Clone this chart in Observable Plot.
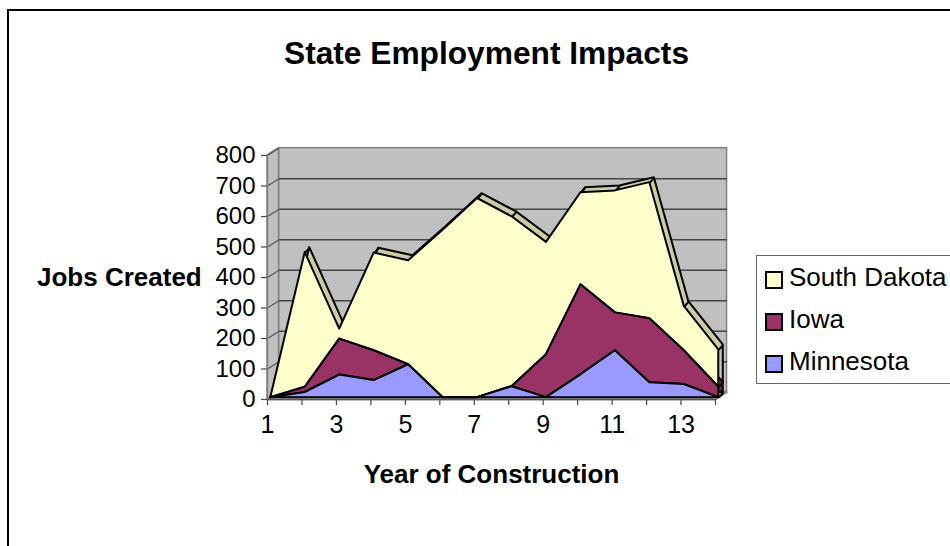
<!DOCTYPE html>
<html>
<head>
<meta charset="utf-8">
<script src="https://cdn.jsdelivr.net/npm/d3@7"></script>
<script src="https://cdn.jsdelivr.net/npm/@observablehq/plot@0.6"></script>
<style>
  html, body { margin: 0; padding: 0; background: #fff; }
  #chart { position: relative; width: 950px; height: 546px; overflow: hidden; font-family: "Liberation Sans", Arial, sans-serif; color: #000; }
  #chart svg { position: absolute; left: 0; top: 0; }
  #frame { position: absolute; left: 7px; top: 9px; width: 960px; height: 560px; border: 2px solid #000; box-sizing: border-box; }
  #legend { position: absolute; left: 756px; top: 255px; width: 210px; height: 129px; border: 1px solid #666; background: #fff; box-sizing: border-box; }
  .entry { position: absolute; left: 8px; font-size: 26px; line-height: 30px; white-space: nowrap; }
  .entry i { display: inline-block; width: 14px; height: 14px; border: 2px solid #000; margin-right: 6px; vertical-align: -3px; }
</style>
</head>
<body>
<div id="chart">
  <div id="frame"></div>
</div>
<script>
// Jobs per year of construction, by state.
const years = [1, 2, 3, 4, 5, 6, 7, 8, 9, 10, 11, 12, 13, 14];
const minnesota = [0, 17, 74, 56, 108, 0, 0, 36, 0, 75, 154, 49, 43, 0];
const iowa = [0, 17, 118, 98, 0, 0, 0, 0, 141, 295, 124, 210, 111, 34];
const southDakota = [0, 442, 33, 320, 341, 549, 653, 557, 368, 302, 400, 446, 145, 123];

const stateNames = ["South Dakota", "Iowa", "Minnesota"];
const faceColors = ["#ffffcc", "#993366", "#9999ff"];
const sideColors = ["#cccca3", "#7a2952", "#7a7acc"];

const yTicks = [0, 100, 200, 300, 400, 500, 600, 700, 800];

// Oblique depth of the 3-D box, in axis units.
const wallDepth = {x: 0.335, y: 24};
const sliceFront = {x: 0.095, y: 6};
const sliceBack = {x: 0.225, y: 22};

// Cumulative tops of the stacked layers.
const topM = minnesota;
const topI = years.map((_, i) => minnesota[i] + iowa[i]);
const topS = years.map((_, i) => minnesota[i] + iowa[i] + southDakota[i]);

const layers = [
  {i: 0, lower: topI, upper: topS},
  {i: 1, lower: topM, upper: topI},
  {i: 2, lower: years.map(() => 0), upper: topM}
];

const layerRows = (offset) => layers.flatMap(l => years.map((yr, k) => ({
  state: stateNames[l.i],
  x: yr + offset.x,
  y1: l.lower[k] + offset.y,
  y2: l.upper[k] + offset.y
})));

const colorOf = (palette) => (d) => palette[stateNames.indexOf(d.state)];

// Back wall, side wall and floor of the box.
const wallColor = "#c0c0c0";
const floorRows = [
  {x: 1, y: 0}, {x: 14, y: 0},
  {x: 14 + wallDepth.x, y: wallDepth.y}, {x: 1 + wallDepth.x, y: wallDepth.y}
];
const sideRows = [
  {x: 1, y1: 0, y2: 800},
  {x: 1 + wallDepth.x, y1: wallDepth.y, y2: 800 + wallDepth.y}
];

const gridLines = yTicks.slice(1);

// Edges joining front and back faces at each vertex.
const topEdges = years.map((yr, k) => ({yr, v: topS[k]}));
const endEdges = [topI[13], topM[13]].map(v => ({yr: 14, v}));

const plot = Plot.plot({
  width: 950,
  height: 546,
  marginLeft: 267,
  marginRight: 235,
  marginTop: 155,
  marginBottom: 147,
  style: {background: "transparent", fontFamily: "'Liberation Sans', Arial, sans-serif", color: "#000", overflow: "visible"},
  x: {domain: [1, 14]},
  y: {domain: [0, 800]},
  marks: [
    // box walls
    Plot.rect([0], {
      x1: () => 1 + wallDepth.x, x2: () => 14 + wallDepth.x,
      y1: () => wallDepth.y, y2: () => 800 + wallDepth.y,
      fill: wallColor, stroke: "#808080", strokeWidth: 1.5
    }),
    Plot.areaY(sideRows, {x: "x", y1: "y1", y2: "y2", fill: wallColor, stroke: "#808080", strokeWidth: 1.5}),
    Plot.line([...floorRows, floorRows[0]], {x: "x", y: "y", fill: wallColor, stroke: "#808080", strokeWidth: 1.5}),
    // gridlines wrap the side wall and the back wall
    Plot.link(gridLines, {
      x1: () => 1, y1: d => d,
      x2: () => 1 + wallDepth.x, y2: d => d + wallDepth.y,
      stroke: "#555", strokeWidth: 1.2
    }),
    Plot.link(gridLines.slice(0, -1), {
      x1: () => 1 + wallDepth.x, y1: d => d + wallDepth.y,
      x2: () => 14 + wallDepth.x, y2: d => d + wallDepth.y,
      stroke: "#444", strokeWidth: 1.4
    }),
    // back faces of the slices: only their top and end bands stay visible
    Plot.areaY(layerRows(sliceBack), {
      x: "x", y1: "y1", y2: "y2", z: "state",
      fill: colorOf(sideColors), stroke: "#000", strokeWidth: 2
    }),
    Plot.link(topEdges.concat(endEdges), {
      x1: d => d.yr + sliceFront.x, y1: d => d.v + sliceFront.y,
      x2: d => d.yr + sliceBack.x, y2: d => d.v + sliceBack.y,
      stroke: "#000", strokeWidth: 2
    }),
    // front faces
    Plot.areaY(layerRows(sliceFront), {
      x: "x", y1: "y1", y2: "y2", z: "state",
      fill: colorOf(faceColors), stroke: "#000", strokeWidth: 2
    }),
    // axes
    Plot.axisY({
      ticks: yTicks, label: null, tickSize: 6, tickPadding: 6,
      fontSize: 24, stroke: "#444", strokeWidth: 1.2
    }),
    Plot.axisX({
      ticks: years, tickFormat: d => (d % 2 ? d : ""), label: "Year of Construction",
      labelAnchor: "center", labelArrow: "none", labelOffset: 83,
      tickSize: 6, tickPadding: 10, fontSize: 25, stroke: "#444", strokeWidth: 1.2
    }),
    Plot.ruleX([1], {stroke: "#808080", strokeWidth: 1.5}),
    Plot.ruleY([0], {stroke: "#555", strokeWidth: 1.5}),
    // titles
    Plot.text(["State Employment Impacts"], {
      frameAnchor: "top", dx: -5, dy: -102, lineAnchor: "middle",
      fontSize: 31.7, fontWeight: "bold", fill: "#000"
    }),
    Plot.text(["Jobs Created"], {
      y: () => 400, frameAnchor: "left", dx: -230.5, textAnchor: "start",
      fontSize: 26, fontWeight: "bold", fill: "#000"
    })
  ]
});

// Bold the x-axis label; the tick labels keep the regular weight.
const chart = document.getElementById("chart");
chart.appendChild(plot);
d3.select(plot).selectAll("text").filter(function () {
  return this.textContent === "Year of Construction";
}).attr("font-weight", "bold").attr("font-size", 26);

// Legend, listed from the top layer down.
const legend = document.createElement("div");
legend.id = "legend";
stateNames.forEach((name, i) => {
  const entry = document.createElement("div");
  entry.className = "entry";
  entry.style.top = (6 + i * 42) + "px";
  const swatch = document.createElement("i");
  swatch.style.background = faceColors[i];
  entry.appendChild(swatch);
  entry.appendChild(document.createTextNode(name));
  legend.appendChild(entry);
});
chart.appendChild(legend);
</script>
</body>
</html>
